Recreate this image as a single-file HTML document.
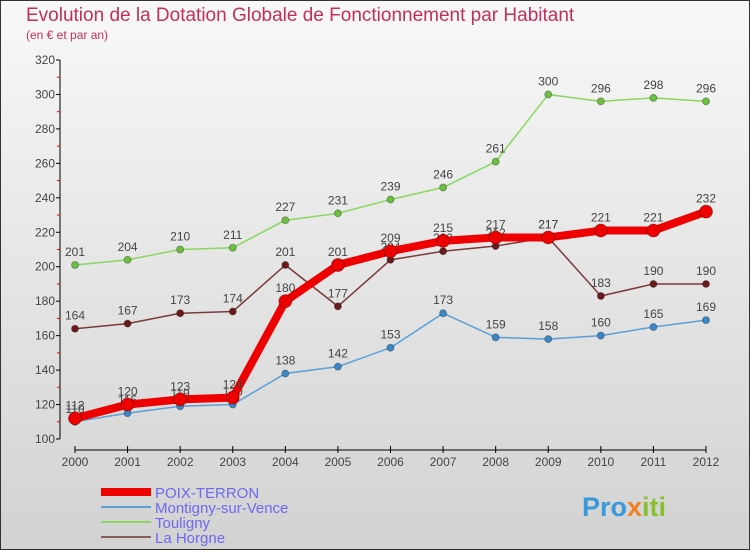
<!DOCTYPE html>
<html><head><meta charset="utf-8"><style>
body{margin:0;}
svg text{font-family:"Liberation Sans","DejaVu Sans",sans-serif;}
</style></head><body>
<svg width="750" height="550" xmlns="http://www.w3.org/2000/svg">
<defs><linearGradient id="bg" x1="0" y1="0" x2="0" y2="1"><stop offset="0" stop-color="#f8f8f8"/><stop offset="1" stop-color="#d2d2d2"/></linearGradient></defs>
<rect x="0.5" y="0.5" width="749" height="549" fill="url(#bg)" stroke="#333"/>
<text x="26" y="21" font-size="19" fill="#c0305a">Evolution de la Dotation Globale de Fonctionnement par Habitant</text>
<text x="26" y="39" font-size="12" fill="#c0305a">(en € et par an)</text>
<g id="axes"></g>
<g id="series"></g>
<g id="legend"></g>
<text x="582" y="516" font-size="27" font-weight="bold" fill="#3a9ad9">Pro<tspan fill="#f08020">x</tspan><tspan fill="#8ac030">iti</tspan></text>
</svg>
<script>
const years=["2000","2001","2002","2003","2004","2005","2006","2007","2008","2009","2010","2011","2012"];
const poix=[112,120,123,124,180,201,209,215,217,217,221,221,232];
const montigny=[110,115,119,120,138,142,153,173,159,158,160,165,169];
const touligny=[201,204,210,211,227,231,239,246,261,300,296,298,296];
const horgne=[164,167,173,174,201,177,204,209,212,217,183,190,190];
const yTicks=[100,120,140,160,180,200,220,240,260,280,300,320];
const NS="http://www.w3.org/2000/svg";
const x=i=>75+i*(706-75)/12;
const y=v=>439-(v-100)*(439-60)/220;
function mk(t,a,p){const e=document.createElementNS(NS,t);for(const k in a)e.setAttribute(k,a[k]);p.appendChild(e);return e;}
const ax=document.getElementById('axes');
let l=mk('line',{x1:60,y1:60,x2:60,y2:439,stroke:'#000'},ax);

yTicks.forEach(v=>{mk('line',{x1:56,y1:y(v),x2:60,y2:y(v),stroke:'#000'},ax);
 if(v<320)mk('line',{x1:57,y1:y(v+10),x2:60,y2:y(v+10),stroke:'#e00'},ax);
 const t=mk('text',{x:55,y:y(v)+4,'font-size':12,'text-anchor':'end',fill:'#444'},ax);t.textContent=v;
 });
l=mk('line',{x1:75,y1:450,x2:706,y2:450,stroke:'#000'},ax);

years.forEach((yr,i)=>{mk('line',{x1:x(i),y1:446,x2:x(i),y2:453,stroke:'#000'},ax);
 const t=mk('text',{x:x(i),y:466,'font-size':12,'text-anchor':'middle',fill:'#444'},ax);t.textContent=yr;
 });
const sg=document.getElementById('series');
const series=[
 {name:'touligny',d:touligny,c:'#88d860',dot:'#6cc040',w:1.5,r:3.5},
 {name:'la-horgne',d:horgne,c:'#7a3a3a',dot:'#6a1a1a',w:1.5,r:3.5},
 {name:'montigny-sur-vence',d:montigny,c:'#5aa0d8',dot:'#3a88c8',w:1.5,r:3.5},
 {name:'poix-terron',d:poix,c:'#ee0000',dot:'#ee0000',w:8,r:6.5}];
series.forEach(s=>{
 const g=mk('g',{},sg);
 const p=mk('polyline',{points:s.d.map((v,i)=>x(i)+','+y(v)).join(' '),fill:'none',stroke:s.c,'stroke-width':s.w,'stroke-linejoin':'round'},g);
 
 s.d.forEach((v,i)=>{const c=mk('circle',{cx:x(i),cy:y(v),r:s.r,fill:s.dot,stroke:'rgba(0,0,0,0.3)'},g);
  
  const t=mk('text',{x:x(i),y:y(v)-9,'font-size':12,'text-anchor':'middle',fill:'#444'},g);t.textContent=v;
  });
});
const lg=document.getElementById('legend');
const leg=[['POIX-TERRON','#ee0000',8],['Montigny-sur-Vence','#5aa0d8',2],['Touligny','#88d860',2],['La Horgne','#8a5a5a',2]];
leg.forEach((e,i)=>{const yy=492+i*15;
 const ln=mk('line',{x1:101,y1:yy,x2:151,y2:yy,stroke:e[1],'stroke-width':e[2]},lg);
 
 const t=mk('text',{x:155,y:yy+6,'font-size':15,fill:'#6a6af0'},lg);t.textContent=e[0];
 });
</script>
</body></html>
